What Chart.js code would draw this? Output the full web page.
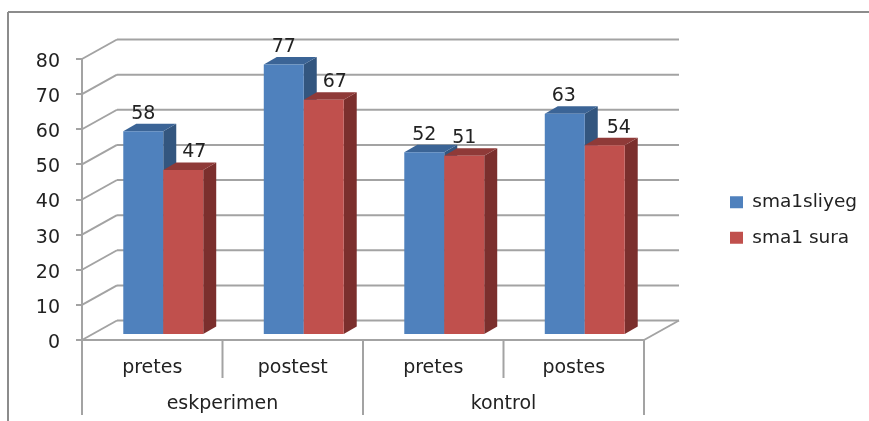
<!DOCTYPE html>
<html>
<head>
<meta charset="utf-8">
<title>Nilai sma1sliyeg dan sma1 sura</title>
<script src="https://cdn.jsdelivr.net/npm/chart.js@4"></script>
<style>
  html, body { margin: 0; padding: 0; background: #fff; }
  #wrap { position: relative; width: 869px; height: 421px; }
</style>
</head>
<body>
<div id="wrap"><canvas id="scoreChart" width="869" height="421"></canvas></div>
<script>
const categories = ["pretes", "postest", "pretes", "postes"]
const groupLabels = ["eskperimen", "kontrol"]
const seriesNames = ["sma1sliyeg", "sma1 sura"]
const sliyegValues = [58, 77, 52, 63]
const suraValues = [47, 67, 51, 54]
const yMax = 80
const yStep = 10

const FONT = "'DejaVu Sans', sans-serif"
const TEXT = "#222"
const AXIS = "#a3a3a3"

// fake 3D: how far the back wall and the bar fronts sit from the front axes
const WALL_DX = 35
const WALL_DY = -19.5
const BAR_DX = 11
const BAR_DY = -5
const SIDE_DX = 13
const SIDE_DY = -7.5

// nudges for the value labels so they clear the bar beside them
const blueLabelShift = [0, 0, 0, -1]
const redLabelShift = [11, 11, 0, 14]

const faces = [
  { side: "#33567f", top: "#3b6496" },
  { side: "#7b2f2d", top: "#8f3a38" },
]

function line(ctx, x1, y1, x2, y2) {
  ctx.beginPath()
  ctx.moveTo(x1, y1)
  ctx.lineTo(x2, y2)
  ctx.stroke()
}

// outer frame, back wall gridlines and the floor
const wallPlugin = {
  id: "wall",
  beforeDatasetsDraw(chart) {
    const { ctx, chartArea, scales } = chart
    ctx.save()
    ctx.strokeStyle = "#8c8c8c"
    ctx.lineWidth = 2
    line(ctx, 8, 12, 869, 12)
    line(ctx, 8, 12, 8, 421)

    ctx.strokeStyle = AXIS
    scales.y.ticks.forEach((tick) => {
      const y = scales.y.getPixelForValue(tick.value)
      line(ctx, chartArea.left, y, chartArea.left + WALL_DX, y + WALL_DY)
      line(ctx, chartArea.left + WALL_DX, y + WALL_DY, chartArea.right + WALL_DX, y + WALL_DY)
    })
    line(ctx, chartArea.left, chartArea.bottom, chartArea.right, chartArea.bottom)
    line(ctx, chartArea.right, chartArea.bottom, chartArea.right + WALL_DX, chartArea.bottom + WALL_DY)
    ctx.restore()
  },
}

// Chart.js paints the first dataset last, but the red bars have to cover the
// blue side faces, so the bars are painted here in dataset order instead
const depthPlugin = {
  id: "depth",
  beforeDatasetDraw() {
    return false
  },
  afterDatasetsDraw(chart) {
    const { ctx } = chart
    ctx.save()
    ctx.translate(BAR_DX, BAR_DY)
    chart.data.datasets.forEach((dataset, d) => {
      chart.getDatasetMeta(d).data.forEach((bar) => {
        const left = bar.x - bar.width / 2
        const right = bar.x + bar.width / 2
        ctx.fillStyle = faces[d].side
        ctx.beginPath()
        ctx.moveTo(right, bar.y)
        ctx.lineTo(right + SIDE_DX, bar.y + SIDE_DY)
        ctx.lineTo(right + SIDE_DX, bar.base + SIDE_DY)
        ctx.lineTo(right, bar.base)
        ctx.closePath()
        ctx.fill()
        ctx.fillStyle = faces[d].top
        ctx.beginPath()
        ctx.moveTo(left, bar.y)
        ctx.lineTo(left + SIDE_DX, bar.y + SIDE_DY)
        ctx.lineTo(right + SIDE_DX, bar.y + SIDE_DY)
        ctx.lineTo(right, bar.y)
        ctx.closePath()
        ctx.fill()
        bar.draw(ctx)
      })
    })
    ctx.restore()
  },
}

// value labels, y tick labels, category dividers and the second row of axis labels
const labelPlugin = {
  id: "labels",
  afterDatasetsDraw(chart) {
    const { ctx, chartArea, scales } = chart
    const shifts = [blueLabelShift, redLabelShift]
    ctx.save()
    ctx.font = "19px " + FONT
    ctx.fillStyle = TEXT
    ctx.textAlign = "center"
    ctx.textBaseline = "middle"
    chart.data.datasets.forEach((dataset, d) => {
      chart.getDatasetMeta(d).data.forEach((bar, i) => {
        ctx.fillText(dataset.data[i], bar.x + BAR_DX + shifts[d][i], bar.y + BAR_DY - 17.5)
      })
    })

    const edges = []
    for (let i = 0; i <= categories.length; i++) {
      edges.push(i < categories.length
        ? scales.x.getPixelForValue(i) - scales.x.width / categories.length / 2
        : chartArea.right)
    }
    ctx.strokeStyle = AXIS
    ctx.lineWidth = 2
    edges.forEach((x, i) => {
      line(ctx, x, chartArea.bottom, x, i % 2 === 0 ? 415 : 378)
    })
    groupLabels.forEach((label, g) => {
      ctx.fillText(label, (edges[g * 2] + edges[g * 2 + 2]) / 2, 404)
    })

    ctx.textAlign = "right"
    scales.y.ticks.forEach((tick) => {
      ctx.fillText(tick.value, chartArea.left - 22, scales.y.getPixelForValue(tick.value) + 3)
    })
    ctx.restore()
  },
}

// moves the legend to its spot in the empty right-hand column
const legendPlugin = {
  id: "legendSpot",
  afterLayout(chart) {
    const legend = chart.legend
    legend.left = 713
    legend.right = 869
    legend.top = 150
    legend.bottom = 290
  },
}

new Chart(document.getElementById("scoreChart"), {
  type: "bar",
  data: {
    labels: categories,
    datasets: [
      { label: seriesNames[0], data: sliyegValues, backgroundColor: "#4f81bd" },
      { label: seriesNames[1], data: suraValues, backgroundColor: "#c0504d" },
    ],
  },
  options: {
    responsive: false,
    animation: false,
    layout: { padding: { top: 59, right: 225, bottom: 0, left: 0 } },
    datasets: { bar: { categoryPercentage: 0.569, barPercentage: 1 } },
    scales: {
      x: {
        offset: true,
        afterFit: (scale) => { scale.height = 81 },
        grid: { display: false },
        border: { display: false },
        ticks: { color: TEXT, font: { family: FONT, size: 19 }, padding: 9, maxRotation: 0 },
      },
      y: {
        min: 0,
        max: yMax,
        afterFit: (scale) => { scale.width = 82 },
        grid: { drawOnChartArea: false, color: AXIS, lineWidth: 2, tickLength: 6 },
        border: { color: AXIS, width: 2 },
        ticks: { stepSize: yStep, display: false },
      },
    },
    plugins: {
      tooltip: { enabled: false },
      legend: {
        position: "chartArea",
        align: "center",
        labels: { color: TEXT, font: { family: FONT, size: 18.5 }, boxWidth: 13, boxHeight: 12, padding: 17 },
      },
    },
  },
  plugins: [wallPlugin, depthPlugin, labelPlugin, legendPlugin],
})
</script>
</body>
</html>
